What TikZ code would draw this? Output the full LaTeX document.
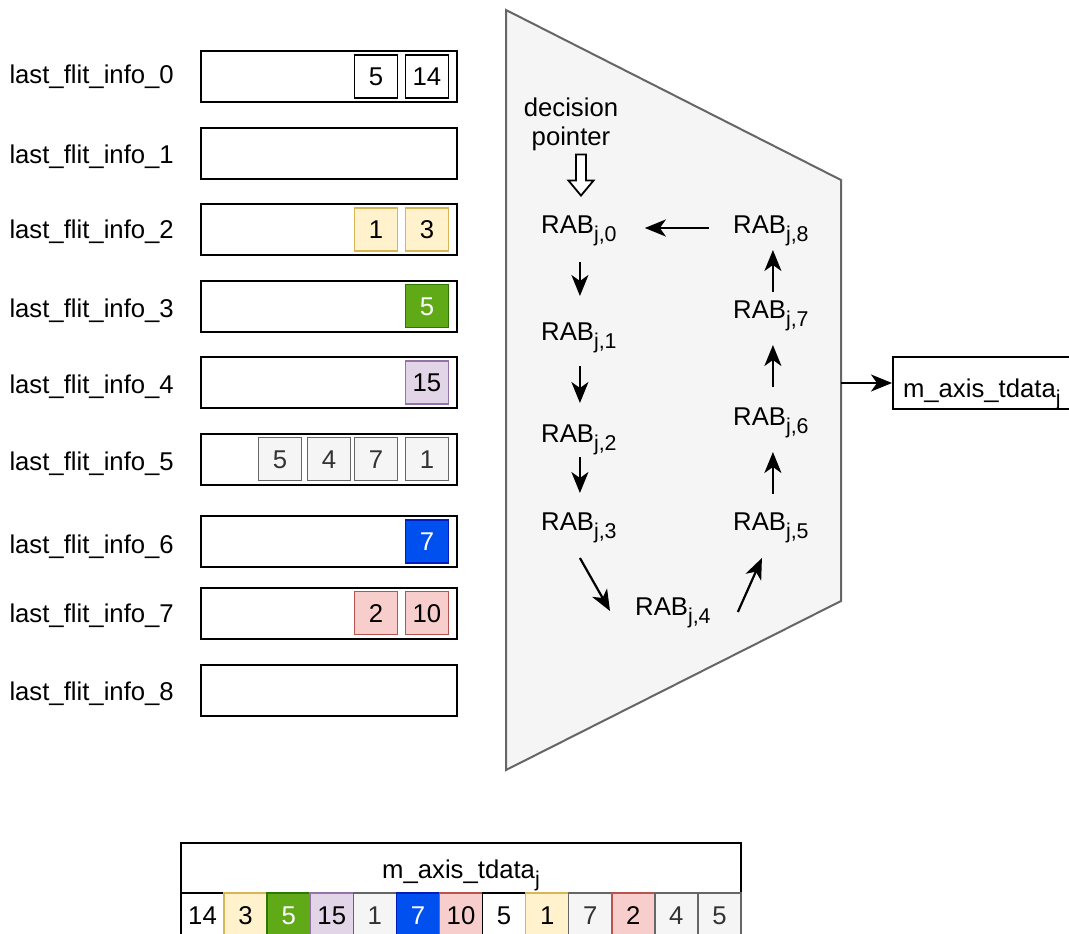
\documentclass[tikz,border=0pt]{standalone}
\usepackage{fontspec}
\setmainfont{Liberation Sans}
\usetikzlibrary{arrows.meta,calc}

\definecolor{yF}{HTML}{FFF2CC}\definecolor{yD}{HTML}{D6B656}
\definecolor{gF}{HTML}{60A917}\definecolor{gD}{HTML}{2D7600}
\definecolor{pF}{HTML}{E1D5E7}\definecolor{pD}{HTML}{9673A6}
\definecolor{sF}{HTML}{F5F5F5}\definecolor{sD}{HTML}{666666}\definecolor{sT}{HTML}{333333}
\definecolor{bF}{HTML}{0050EF}\definecolor{bD}{HTML}{001DBC}
\definecolor{rF}{HTML}{F8CECC}\definecolor{rD}{HTML}{B85450}

\newcommand\fs{\fontsize{25.7}{29}\selectfont}
\newcommand\subs[1]{\raisebox{-8pt}{\fontsize{21.4}{24}\selectfont #1}}

\begin{document}
\begin{tikzpicture}[x=1pt,y=-1pt,
  lbl/.style={font=\fs, inner sep=0pt, anchor=base west},
  cont/.style={draw, line width=2pt, minimum width=256pt, minimum height=51pt, inner sep=0pt},
  cell/.style={draw, line width=1.6pt, minimum width=43pt, minimum height=43pt, inner sep=0pt,
               font=\fs, text height=18.4pt, text depth=0pt},
  cw/.style={cell, fill=white, draw=black},
  cy/.style={cell, fill=yF, draw=yD},
  cg/.style={cell, fill=gF, draw=gD, text=white},
  cp/.style={cell, fill=pF, draw=pD},
  cs/.style={cell, fill=sF, draw=sD, text=sT},
  cb/.style={cell, fill=bF, draw=bD, text=white},
  cr/.style={cell, fill=rF, draw=rD},
  rab/.style={font=\fs, inner sep=0pt, anchor=base west},
  arr/.style={line width=2.2pt, -{Stealth[length=21pt,width=17pt,inset=6pt]}},
  tcell/.style={minimum width=43.08pt, minimum height=44pt}
]
\useasboundingbox (0,0) rectangle (1069,934);
\clip (0,0) rectangle (1069,934);
\fill[white] (0,0) rectangle (1069,934);

% register labels
\foreach \i/\b in {0/84,1/163,2/238,3/317,4/393,5/470,6/553,7/622,8/700}
  \node[lbl] (lab\i) at (9.3,\b) {last\_flit\_info\_\i};

% register containers
\foreach \i/\c in {0/76.5,1/153,2/229.5,3/306,4/382.5,5/459,6/541.5,7/613,8/690}
  \node[cont] (row\i) at (329,\c) {};

% stored entries
\node[cw] (e00) at (376,76.5) {5};
\node[cw] (e01) at (427,76.5) {14};
\node[cy] (e20) at (376,229.5) {1};
\node[cy] (e21) at (427,229.5) {3};
\node[cg] (e30) at (427,306) {5};
\node[cp] (e40) at (427,382.5) {15};
\node[cs] (e50) at (280,459) {5};
\node[cs] (e51) at (329,459) {4};
\node[cs] (e52) at (376,459) {7};
\node[cs] (e53) at (427,459) {1};
\node[cb] (e60) at (427,541.5) {7};
\node[cr] (e70) at (376,613) {2};
\node[cr] (e71) at (427,613) {10};

% arbiter body
\draw[fill=sF, draw=sD, line width=2pt] (506,10) -- (841,180) -- (841,601) -- (506,770) -- cycle;
\coordinate (arbout) at (841,383);

% decision pointer
\node[font=\fs, align=center, inner sep=0pt] (dp) at (571,124.3) {decision\\pointer};
\coordinate (hp) at ($(dp.south)+(10,3.6)$);
\begin{scope}[shift={(hp)}]
  \draw[line width=1.8pt, fill=white, line join=miter]
    (-5,0) -- (-5,26) -- (-12.5,26) -- (0,41) -- (12.5,26) -- (5,26) -- (5,0) -- cycle;
\end{scope}

% round-robin ring
\node[rab] (r0) at (541,233) {RAB\subs{j,0}};
\node[rab] (r1) at (541,340) {RAB\subs{j,1}};
\node[rab] (r2) at (541,442) {RAB\subs{j,2}};
\node[rab] (r3) at (541,530) {RAB\subs{j,3}};
\node[rab] (r4) at (635,615) {RAB\subs{j,4}};
\node[rab] (r5) at (733,530) {RAB\subs{j,5}};
\node[rab] (r6) at (733,425) {RAB\subs{j,6}};
\node[rab] (r7) at (733,318) {RAB\subs{j,7}};
\node[rab] (r8) at (733,233) {RAB\subs{j,8}};

\draw[arr] ($(r0.base)+(1,29)$) -- ($(r1.base)+(1,-44)$);
\draw[arr] ($(r1.base)+(1,26)$) -- ($(r2.base)+(1,-39)$);
\draw[arr] ($(r2.base)+(1,15)$) -- ($(r3.base)+(1,-37)$);
\draw[arr] ($(r3.base)+(1,28)$) -- ($(r4.base west)+(-25,-4)$);
\draw[arr] ($(r4.base east)+(27,-3)$) -- ($(r5.base)+(-9,28)$);
\draw[arr] ($(r5.base)+(2,-36)$) -- ($(r6.base)+(2,27)$);
\draw[arr] ($(r6.base)+(2,-38)$) -- ($(r7.base)+(2,27)$);
\draw[arr] ($(r7.base)+(2,-26)$) -- ($(r8.base)+(2,17)$);
\draw[arr] ($(r8.base west)+(-24,-5)$) -- ($(r0.base east)+(28,-5)$);

% output port
\node[draw, line width=2pt, anchor=west, minimum width=210pt, minimum height=52pt,
      text width=190pt, align=left, inner xsep=9.3pt, font=\fs,
      text height=28pt, text depth=0pt] (out) at (892,383) {m\_axis\_tdata\subs{j}};
\draw[arr] (arbout) -- (out.west);

% output word
\node[draw, line width=2pt, minimum width=560pt, minimum height=50pt, inner sep=0pt,
      font=\fs, text height=20pt, text depth=0pt] (hdr) at (461,868) {m\_axis\_tdata\subs{j}};
\foreach \k/\st/\v in {0/cw/14,1/cy/3,2/cg/5,3/cp/15,4/cs/1,5/cb/7,6/cr/10,7/cw/5,8/cy/1,9/cs/7,10/cr/2,11/cs/4,12/cs/5}
  \node[\st, tcell] (w\k) at ({181+43.077*(\k+0.5)},915) {\v};

\end{tikzpicture}
\end{document}
